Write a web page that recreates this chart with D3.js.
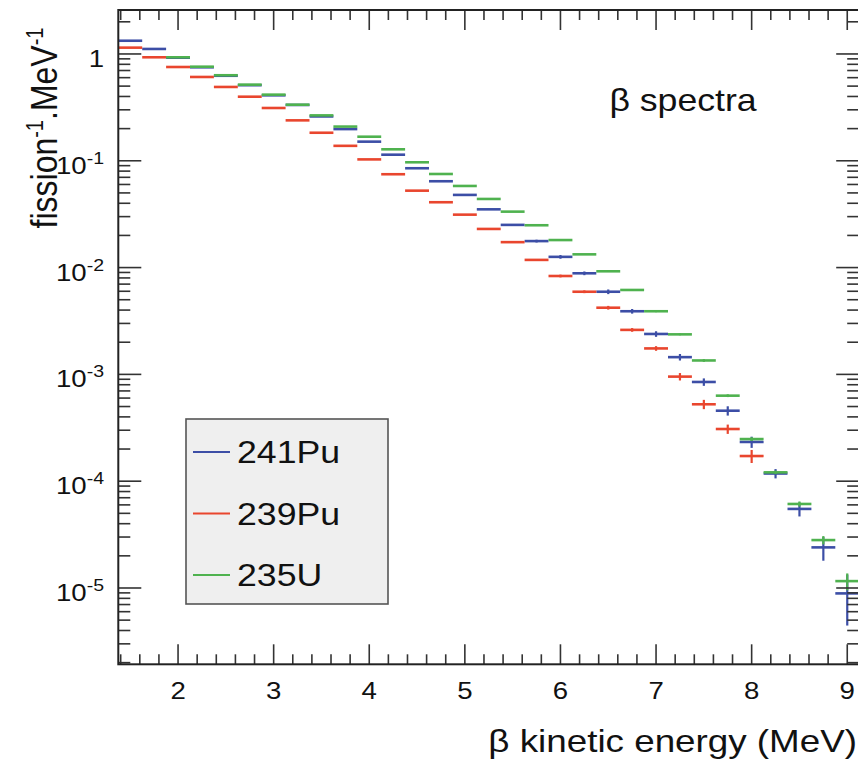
<!DOCTYPE html>
<html><head><meta charset="utf-8">
<script src="https://cdn.jsdelivr.net/npm/d3@7"></script>
<style>
html,body{margin:0;padding:0;background:#fff;}
svg{display:block;}
text{font-family:"Liberation Sans",Arial,Helvetica,sans-serif;fill:#111;}
</style></head>
<body><svg id="chart" width="858" height="760"></svg>
<script>
// ---------- data ----------
const energies = [1.5,1.75,2.0,2.25,2.5,2.75,3.0,3.25,3.5,3.75,4.0,4.25,4.5,4.75,5.0,5.25,5.5,5.75,6.0,6.25,6.5,6.75,7.0,7.25,7.5,7.75,8.0,8.25,8.5,8.75,9.0];
const pu241 = [1.33,1.114,0.922,0.75,0.625,0.51,0.41,0.333,0.26,0.198,0.151,0.114,0.0851,0.0643,0.0479,0.0351,0.0251,0.0177,0.0126,0.00884,0.00594,0.0039,0.00239,0.00145,0.000849,0.000457,0.000233,0.000118,5.5e-5,2.4e-5,8.9e-6];
const pu239 = [1.146,0.931,0.755,0.609,0.491,0.398,0.312,0.239,0.183,0.138,0.103,0.0748,0.0525,0.0409,0.0313,0.023,0.0173,0.0118,0.00834,0.00594,0.00421,0.00261,0.00175,0.000953,0.000525,0.000308,0.000172,null,null,null,null];
const u235 = [null,null,0.931,0.76,0.632,0.516,0.416,0.335,0.266,0.209,0.168,0.128,0.0968,0.0752,0.0581,0.0439,0.0334,0.0249,0.0181,0.0133,0.00923,0.00617,0.0039,0.00237,0.00135,0.000632,0.000248,0.000121,6.12e-5,2.81e-5,1.16e-5];
// relative uncertainties
const pu241Err = [0,0,0,0,0,0,0,0,0,0,0,0,0,0,0,0.01,0.02,0.03,0.04,0.04,0.05,0.05,0.06,0.07,0.08,0.1,0.12,0.1,0.15,0.25,0.5];
const pu239Err = [0,0,0,0,0,0,0,0,0,0,0,0,0,0,0,0,0.01,0.02,0.03,0.03,0.04,0.04,0.05,0.08,0.1,0.1,0.14,0,0,0,0];
const u235Err  = [0,0,0,0,0,0,0,0,0,0,0,0,0,0,0,0,0,0,0,0,0.01,0.01,0.02,0.02,0.03,0.03,0.04,0.04,0.055,0.09,0.18];
const binWidth = 0.25;
const seriesNames = ["241Pu","239Pu","235U"];
const seriesColors = ["#3c4ea6","#e9462e","#4fb24f"];
const xTickLabels = [2,3,4,5,6,7,8,9];
const yDecades = [1,1e-1,1e-2,1e-3,1e-4,1e-5];
const xTitle = "β kinetic energy (MeV)";
const plotLabel = "β spectra";

// ---------- layout ----------
const svg = d3.select("#chart");
const L = 118.3, R = 859.2, T = 10, B = 664.3;
const x = d3.scaleLinear().domain([1.375, 9.125]).range([L, R]);
const y = d3.scaleLog().domain([1.93e-6, 2.58]).range([B, T]);
const SX = 1.15; // horizontal text stretch of the original

function stretchedText(g, tx, ty, anchor, size) {
  return g.append("text")
    .attr("transform", `translate(${tx},${ty}) scale(${SX},1)`)
    .attr("text-anchor", anchor)
    .attr("font-size", size);
}

// ---------- data marks ----------
const series = [
  {name: seriesNames[0], color: seriesColors[0], vals: pu241, err: pu241Err},
  {name: seriesNames[1], color: seriesColors[1], vals: pu239, err: pu239Err},
  {name: seriesNames[2], color: seriesColors[2], vals: u235,  err: u235Err}
];
const dataG = svg.append("g");
series.forEach(s => {
  const pts = energies.map((e,i) => ({e, v: s.vals[i], r: s.err[i]})).filter(d => d.v != null);
  const g = dataG.append("g").attr("stroke", s.color).attr("stroke-width", 2.6).attr("fill","none");
  g.selectAll("line.h").data(pts).join("line").attr("class","h")
    .attr("x1", d => x(d.e - binWidth/2)).attr("x2", d => x(d.e + binWidth/2))
    .attr("y1", d => y(d.v)).attr("y2", d => y(d.v));
  g.selectAll("line.v").data(pts.filter(d => d.r > 0)).join("line").attr("class","v")
    .attr("stroke-width", 2.2)
    .attr("x1", d => x(d.e)).attr("x2", d => x(d.e))
    .attr("y1", d => y(d.v*(1+d.r))).attr("y2", d => y(Math.max(d.v*(1-d.r), 1.93e-6)));
});

// ---------- axes ----------
const axG = svg.append("g").attr("stroke","#333").attr("fill","none");
const xMajor = d3.range(2, 10, 1);
const xMinor = d3.range(1.4, 9.13, 0.2).filter(v => Math.abs(v - Math.round(v)) > 1e-6);
const yMajor = yDecades;
const yMinor = [];
for (let k = -6; k <= 0; k++) for (let m = 2; m <= 9; m++) { const v = m*Math.pow(10,k); if (v >= 1.93e-6 && v <= 2.58) yMinor.push(v); }

function ticks(vals, len, orient) {
  vals.forEach(v => {
    if (orient === "bottom") axG.append("line").attr("x1", x(v)).attr("x2", x(v)).attr("y1", B).attr("y2", B - len);
    if (orient === "top") axG.append("line").attr("x1", x(v)).attr("x2", x(v)).attr("y1", T).attr("y2", T + len);
    if (orient === "left") axG.append("line").attr("x1", L).attr("x2", L + len).attr("y1", y(v)).attr("y2", y(v));
    if (orient === "right") axG.append("line").attr("x1", R).attr("x2", R - len).attr("y1", y(v)).attr("y2", y(v));
  });
}
axG.attr("stroke-width", 1.6);
ticks(xMajor, 20, "bottom"); ticks(xMinor, 10, "bottom");
ticks(xMajor, 20, "top"); ticks(xMinor, 10, "top");
ticks(yMajor, 23, "left"); ticks(yMinor, 12, "left");
ticks(yMajor, 23, "right"); ticks(yMinor, 12, "right");
axG.append("rect").attr("x", L).attr("y", T).attr("width", R - L).attr("height", B - T)
  .attr("stroke","#222").attr("stroke-width", 2);

// ---------- tick labels ----------
const labG = svg.append("g");
xTickLabels.forEach(v => {
  stretchedText(labG, x(v), 699, "middle", 24).text(v);
});
yDecades.forEach(v => {
  const k = Math.round(Math.log10(v));
  const t = stretchedText(labG, 104, y(v) + 13, "end", 24);
  if (k === 0) t.text("1");
  else { t.append("tspan").text("10"); t.append("tspan").attr("dy", -10).attr("font-size", 17).text(String(k)); }
});

// ---------- titles ----------
stretchedText(svg, 857, 752, "end", 32).text(xTitle);
const yt = svg.append("text").attr("transform", "translate(57,128) rotate(-90) scale(1,1.15)")
  .attr("text-anchor","middle").attr("font-size", 32);
yt.append("tspan").text("fission");
yt.append("tspan").attr("dy",-12).attr("font-size",20).text("-1");
yt.append("tspan").attr("dy",12).text(".MeV");
yt.append("tspan").attr("dy",-12).attr("font-size",20).text("-1");
stretchedText(svg, 683, 111, "middle", 31).text(plotLabel);

// ---------- legend ----------
const lg = svg.append("g");
lg.append("rect").attr("x",186).attr("y",419).attr("width",202).attr("height",185)
  .attr("fill","#efefef").attr("stroke","#555").attr("stroke-width",1.6);
series.forEach((s,i) => {
  const cy = 452 + i*61.5;
  lg.append("line").attr("x1",193).attr("x2",230).attr("y1",cy).attr("y2",cy)
    .attr("stroke", s.color).attr("stroke-width", 2);
  stretchedText(lg, 237, cy + 11, "start", 31).text(s.name);
});
</script></body></html>
